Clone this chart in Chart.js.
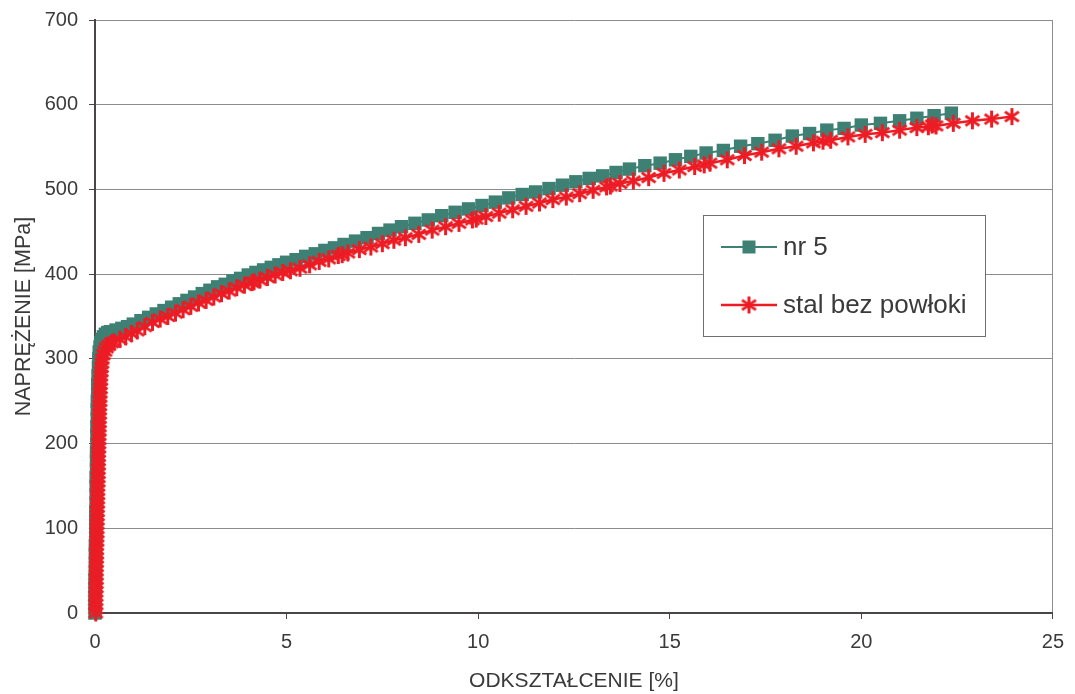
<!DOCTYPE html>
<html>
<head>
<meta charset="utf-8">
<script src="https://cdn.jsdelivr.net/npm/chart.js@4.4.1/dist/chart.umd.min.js"></script>
<style>
  html, body { margin: 0; padding: 0; background: #ffffff; }
  #wrap { width: 1075px; height: 694px; position: relative; }
</style>
</head>
<body>
<div id="wrap"><canvas id="chart"></canvas></div>
<script>
// Tensile test: stress vs strain for coated sample nr 5 and uncoated steel
const nr5Label = 'nr 5';
const stalLabel = 'stal bez powłoki';

const nr5Strain = [0, 0, 0, 0, 0, 0.01, 0.01, 0.01, 0.01, 0.02, 0.02, 0.02, 0.02, 0.03, 0.03, 0.03, 0.03, 0.04, 0.04,
  0.04, 0.05, 0.05, 0.05, 0.06, 0.06, 0.06, 0.07, 0.07, 0.08, 0.09, 0.1, 0.11, 0.13, 0.15, 0.18, 0.22, 0.27, 0.33,
  0.4, 0.55, 0.7, 0.85, 1.0, 1.2, 1.4, 1.6, 1.8, 2.0, 2.2, 2.4, 2.6, 2.8, 3.0, 3.2, 3.4, 3.6, 3.8, 4.0, 4.2, 4.4,
  4.6, 4.8, 5.0, 5.25, 5.5, 5.75, 6.0, 6.25, 6.5, 6.8, 7.1, 7.4, 7.7, 8.0, 8.35, 8.7, 9.05, 9.4, 9.75, 10.1, 10.45,
  10.8, 11.15, 11.5, 11.85, 12.2, 12.55, 12.9, 13.25, 13.6, 13.95, 14.35, 14.75, 15.15, 15.55, 15.95, 16.4, 16.85,
  17.3, 17.75, 18.2, 18.65, 19.1, 19.55, 20.0, 20.5, 21.0, 21.45, 21.9, 22.35];
const nr5Stress = [0, 10, 20, 30, 40, 50, 60, 70, 80, 90, 100, 110, 120, 130, 140, 150, 160, 170, 180,
  190, 200, 210, 220, 230, 240, 250, 260, 270, 280, 290, 300, 308, 314, 319, 323, 326, 329, 331,
  332, 334, 336, 338, 341, 345, 349, 353, 357, 361, 365, 369, 373, 377, 381, 385, 388, 392, 395, 399, 402, 405,
  408, 411, 414, 417, 421, 424, 428, 431, 435, 439, 443, 448, 452, 456, 460, 464, 469, 473, 477, 481, 485,
  490, 494, 497, 501, 505, 509, 513, 516, 520, 524, 528, 531, 535, 539, 543, 546, 551,
  554, 558, 563, 566, 570, 572, 576, 578, 581, 584, 587, 590];

const stalStrain = [
  0.02, 0.02, 0.02, 0.02, 0.02, 0.02, 0.03, 0.03, 0.03, 0.03, 0.03,
  0.03, 0.04, 0.04, 0.04, 0.04, 0.04, 0.05, 0.05, 0.05, 0.05,
  0.05, 0.06, 0.06, 0.06, 0.06, 0.07, 0.07, 0.07, 0.07, 0.07,
  0.08, 0.08, 0.08, 0.08, 0.09, 0.09, 0.09, 0.09, 0.1, 0.1,
  0.1, 0.1, 0.11, 0.11, 0.11, 0.11, 0.12, 0.12, 0.12, 0.13,
  0.13, 0.13, 0.14, 0.14, 0.15, 0.15, 0.16, 0.17, 0.18, 0.19,
  0.22, 0.26, 0.3, 0.36, 0.43, 0.5, 0.65, 0.8, 0.95, 1.1, 1.3, 1.5, 1.7, 1.9, 2.1, 2.3, 2.5, 2.7, 2.9, 3.1, 3.3,
  3.5, 3.7, 3.9, 4.1, 4.15, 4.3, 4.5, 4.7, 4.9, 5.1, 5.35, 5.6, 5.85, 6.1, 6.35, 6.45, 6.6, 6.9, 7.2, 7.5, 7.8,
  8.1, 8.45, 8.8, 9.15, 9.5, 9.85, 9.95, 10.2, 10.55, 10.9, 11.25, 11.6, 11.95, 12.3, 12.65, 13.0, 13.35, 13.45,
  13.7, 14.05, 14.45, 14.85, 15.25, 15.65, 15.9, 16.05, 16.5, 16.95, 17.4, 17.85, 18.3, 18.75, 19.0, 19.2, 19.65,
  20.1, 20.55, 21.0, 21.45, 21.75, 21.85, 21.95, 22.4, 22.9, 23.4, 23.93];
const stalStress = [
  0, 5, 10, 15, 20, 25, 30, 35, 40, 45, 50,
  55, 60, 65, 70, 75, 80, 85, 90, 95, 100,
  105, 110, 115, 120, 125, 130, 135, 140, 145, 150,
  155, 160, 165, 170, 175, 180, 185, 190, 195, 200,
  205, 210, 215, 220, 225, 230, 235, 240, 245, 250,
  255, 260, 265, 270, 275, 280, 285, 290, 295, 300,
  305, 309, 313, 316, 319, 320, 323, 326, 330, 333, 338, 343, 347, 350, 354, 358, 362, 366, 369, 373, 377,
  380, 384, 387, 390, 391, 393, 396, 399, 402, 404, 407, 411, 415, 418, 422, 423, 425, 429, 432, 436, 440,
  443, 447, 452, 456, 460, 464, 465, 468, 472, 476, 480, 484, 488, 491, 495, 499, 503, 504,
  507, 510, 514, 519, 523, 527, 529, 531, 535, 540, 544, 548, 551, 555, 557, 558, 562,
  565, 567, 570, 573, 574, 576, 575, 578, 581, 583, 586];

const xTicks = [0, 5, 10, 15, 20, 25];
const yTicks = [0, 100, 200, 300, 400, 500, 600, 700];
const xTitle = 'ODKSZTAŁCENIE [%]';
const yTitle = 'NAPRĘŻENIE [MPa]';

const teal = '#3e8174';
const red = '#ed1c24';
const textColor = '#3a3a3a';
const gridColor = '#8c8c8c';
const axisColor = '#4a4646';
const fontFamily = '"Liberation Sans", Arial, sans-serif';

function toPoints(xs, ys) {
  return xs.map((x, i) => ({ x: x, y: ys[i] }));
}

// asterisk marker: a vertical bar crossed by two slanted bars
function makeStar(size, color, lw) {
  const c = document.createElement('canvas');
  c.width = size; c.height = size;
  const g = c.getContext('2d');
  const m = size / 2, r = size / 2 - 1;
  g.strokeStyle = color;
  g.lineWidth = lw;
  g.beginPath();
  g.moveTo(m, m - r); g.lineTo(m, m + r);
  const a = 35 * Math.PI / 180;
  const dx = r * Math.cos(a), dy = r * Math.sin(a);
  g.moveTo(m - dx, m - dy); g.lineTo(m + dx, m + dy);
  g.moveTo(m - dx, m + dy); g.lineTo(m + dx, m - dy);
  g.stroke();
  return c;
}
const starImg = makeStar(19, red, 3);

// legend box drawn inside the plot area
const boxLegend = {
  id: 'boxLegend',
  afterDraw(chart) {
    const { ctx, chartArea } = chart;
    const x0 = chartArea.left + 608, y0 = chartArea.top + 195, w = 282, h = 121;
    ctx.save();
    ctx.fillStyle = '#ffffff';
    ctx.fillRect(x0, y0, w, h);
    ctx.strokeStyle = '#6f6f6f';
    ctx.lineWidth = 1;
    ctx.strokeRect(x0 + 0.5, y0 + 0.5, w, h);
    const rows = [
      { ds: chart.data.datasets[0], y: y0 + 32 },
      { ds: chart.data.datasets[1], y: y0 + 90 }
    ];
    rows.forEach(({ ds, y }) => {
      ctx.strokeStyle = ds.borderColor;
      ctx.lineWidth = ds.borderWidth;
      ctx.beginPath();
      ctx.moveTo(x0 + 18, y);
      ctx.lineTo(x0 + 74, y);
      ctx.stroke();
      const cx = x0 + 46;
      if (ds.pointStyle === 'rect') {
        ctx.fillStyle = ds.pointBackgroundColor;
        ctx.fillRect(cx - 6.5, y - 6.5, 13, 13);
      } else {
        ctx.drawImage(starImg, cx - starImg.width / 2, y - starImg.height / 2);
      }
      ctx.fillStyle = textColor;
      ctx.font = '26px ' + fontFamily;
      ctx.textBaseline = 'middle';
      ctx.textAlign = 'left';
      ctx.fillText(ds.label, x0 + 80, y + 1);
    });
    ctx.restore();
  }
};

new Chart(document.getElementById('chart'), {
  type: 'scatter',
  data: {
    datasets: [
      {
        label: nr5Label,
        data: toPoints(nr5Strain, nr5Stress),
        showLine: true,
        borderColor: teal,
        borderWidth: 2,
        pointStyle: 'rect',
        pointRadius: 9.5,
        pointBorderWidth: 0,
        pointBackgroundColor: teal,
        pointBorderColor: teal,
        clip: false,
        order: 2
      },
      {
        label: stalLabel,
        data: toPoints(stalStrain, stalStress),
        showLine: true,
        borderColor: red,
        borderWidth: 2.5,
        pointStyle: starImg,
        pointRadius: 9,
        pointBackgroundColor: red,
        pointBorderColor: red,
        clip: false,
        order: 1
      }
    ]
  },
  options: {
    responsive: true,
    maintainAspectRatio: false,
    animation: false,
    devicePixelRatio: 1,
    layout: { padding: { left: 0, top: 20, right: 22, bottom: 0 } },
    plugins: { legend: { display: false }, tooltip: { enabled: false } },
    scales: {
      x: {
        type: 'linear',
        min: 0, max: 25,
        afterBuildTicks: s => { s.ticks = xTicks.map(v => ({ value: v })); },
        afterFit: s => { s.height = 81; },
        border: { display: true, color: axisColor, width: 2 },
        grid: {
          drawOnChartArea: true,
          color: c => (c.tick && c.tick.value === 25 ? gridColor : 'rgba(0,0,0,0)'),
          tickColor: axisColor,
          tickLength: 6
        },
        ticks: { color: textColor, font: { family: fontFamily, size: 20 }, padding: 11, maxRotation: 0 },
        title: { display: true, text: xTitle, color: textColor, font: { family: fontFamily, size: 21 }, padding: { top: 0, bottom: 0 } }
      },
      y: {
        type: 'linear',
        min: 0, max: 700,
        afterBuildTicks: s => { s.ticks = yTicks.map(v => ({ value: v })); },
        afterFit: s => { s.width = 95; s.paddingTop = 10; s.paddingBottom = 10; },
        border: { display: true, color: axisColor, width: 2 },
        grid: { color: gridColor, tickColor: axisColor, tickLength: 6, lineWidth: 1 },
        ticks: { color: textColor, font: { family: fontFamily, size: 20 }, padding: 11 },
        title: { display: true, text: yTitle, color: textColor, font: { family: fontFamily, size: 21.5 }, padding: { top: 11, bottom: 0 } }
      }
    }
  },
  plugins: [boxLegend]
});
</script>
</body>
</html>
